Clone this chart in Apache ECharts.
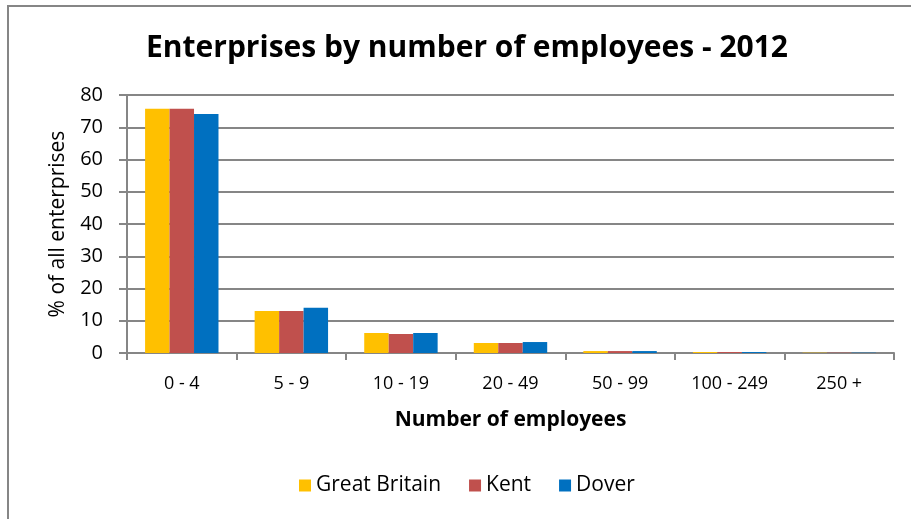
<!DOCTYPE html>
<html>
<head>
<meta charset="utf-8">
<script src="https://cdn.jsdelivr.net/npm/echarts@6/dist/echarts.min.js"></script>
<style>
  html, body { margin: 0; padding: 0; background: #fff; }
  #chart { width: 911px; height: 519px; }
  .frame { position: absolute; left: 7px; top: 5px; width: 920px; height: 530px; border: 2px solid #868686; box-sizing: border-box; pointer-events: none; }
</style>
</head>
<body>
<div id="chart"></div>
<div class="frame"></div>
<script>
// data
const categories = ["0 - 4", "5 - 9", "10 - 19", "20 - 49", "50 - 99", "100 - 249", "250 +"];
const greatBritain = [75.7, 13.0, 6.2, 3.1, 0.6, 0.3, 0.1];
const kent = [75.7, 13.0, 5.9, 3.1, 0.6, 0.3, 0.1];
const dover = [74.1, 14.0, 6.2, 3.4, 0.6, 0.3, 0.1];

const font = "'Open Sans', Lato, sans-serif";
const grey = "#868686";

const chart = echarts.init(document.getElementById("chart"));
const option = {
  animation: false,
  textStyle: { fontFamily: font },
  title: {
    text: "Enterprises by number of employees - 2012",
    left: 462,
    textAlign: "center",
    top: 28,
    textStyle: { fontSize: 30, fontWeight: "bold", color: "#000", fontFamily: font },
  },
  legend: {
    bottom: 18,
    left: 294,
    itemWidth: 12,
    itemHeight: 12,
    itemGap: 28,
    icon: "rect",
    textStyle: { fontSize: 21, color: "#000", fontFamily: font },
    data: ["Great Britain", "Kent", "Dover"],
  },
  grid: {
    left: 127,
    right: 17,
    top: 95,
    bottom: 166,
  },
  xAxis: {
    type: "category",
    data: categories,
    name: "Number of employees",
    nameLocation: "middle",
    nameGap: 57,
    nameTextStyle: { fontSize: 21, fontWeight: "bold", color: "#000", fontFamily: font },
    axisLine: { lineStyle: { color: grey, width: 2 } },
    axisTick: { show: true, length: 7, lineStyle: { color: grey, width: 2 } },
    axisLabel: { fontSize: 18, color: "#000", margin: 22, fontFamily: font },
  },
  yAxis: {
    type: "value",
    min: 0,
    max: 80,
    interval: 10,
    name: "% of all enterprises",
    nameLocation: "middle",
    nameGap: 58,
    nameTextStyle: { fontSize: 21, color: "#000", fontFamily: font },
    axisLine: { show: true, lineStyle: { color: grey, width: 2 } },
    axisTick: { show: true, length: 8, lineStyle: { color: grey, width: 2 } },
    axisLabel: { fontSize: 20, color: "#000", margin: 24, fontFamily: font },
    splitLine: { lineStyle: { color: grey, width: 2 } },
  },
  series: [
    { name: "Great Britain", type: "bar", data: greatBritain, itemStyle: { color: "#FFC000" }, barGap: "0%", barCategoryGap: "33%" },
    { name: "Kent", type: "bar", data: kent, itemStyle: { color: "#C0504D" } },
    { name: "Dover", type: "bar", data: dover, itemStyle: { color: "#0070C0" } },
  ],
};
chart.setOption(option);
</script>
</body>
</html>
